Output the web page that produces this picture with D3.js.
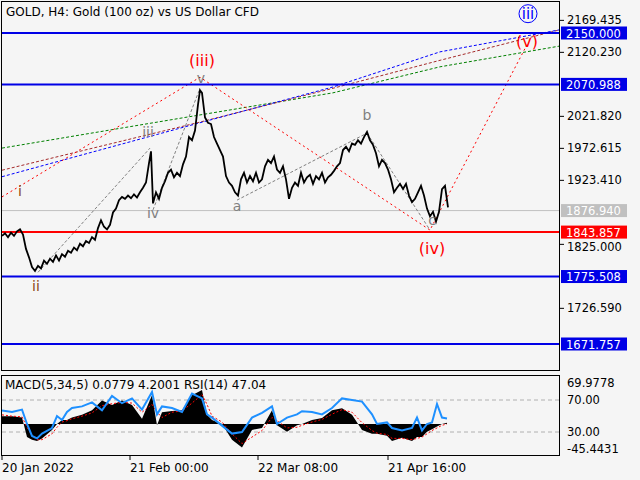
<!DOCTYPE html><html><head><meta charset="utf-8">
<script src="https://cdn.jsdelivr.net/npm/d3@7"></script>
<style>body{margin:0;background:#f5f5f5}svg{font-family:"DejaVu Sans",sans-serif}</style></head><body>
<svg id="c" width="640" height="480"></svg>
<script>
const priceBars=[2,5,8,11,14,17,20,23,26,29,32,35,38,41,44,47,50,53,56,59,62,65,68,71,74,77,80,83,86,89,92,95,98,101,104,107,110,113,116,119,122,125,128,131,134,137,140,143,146,149,151,153,156,159,162,165,168,171,174,177,180,183,186,189,192,195,198,200,202,205,208,211,214,217,220,223,226,229,232,235,238,241,244,247,250,253,256,259,262,265,268,271,274,277,280,283,286,289,292,295,298,301,304,307,310,313,316,319,322,325,328,331,334,337,340,343,346,349,352,355,358,361,364,367,370,373,376,379,382,385,388,391,394,397,400,403,406,409,412,415,418,421,424,427,430,433,436,439,442,445,448];
const priceVals=[1838,1842,1836,1843,1838,1845,1848,1840,1818,1805,1790,1784,1792,1788,1800,1795,1803,1798,1808,1800,1810,1806,1815,1812,1820,1816,1826,1822,1830,1827,1836,1832,1850,1862,1852,1848,1855,1874,1880,1893,1898,1895,1900,1896,1902,1897,1905,1912,1920,1950,1968,1888,1905,1895,1912,1922,1935,1940,1928,1935,1930,1948,1960,1990,1985,2000,2040,2062,2058,2020,2012,2010,1990,1980,1970,1960,1930,1920,1915,1905,1900,1925,1935,1920,1930,1922,1935,1920,1925,1945,1955,1950,1960,1940,1935,1945,1925,1895,1912,1920,1915,1935,1920,1928,1932,1918,1930,1925,1935,1920,1928,1932,1938,1945,1950,1970,1975,1968,1980,1978,1985,1980,1990,1998,1985,1978,1965,1945,1955,1950,1940,1925,1905,1912,1918,1910,1918,1900,1890,1895,1905,1915,1900,1880,1868,1875,1860,1875,1910,1915,1882];
const oscBars=[0,10,20,25,30,35,40,50,55,60,65,70,80,90,100,110,120,130,140,150,155,160,170,180,190,200,205,210,220,230,240,250,260,270,275,285,295,300,310,320,330,340,350,360,370,375,385,390,400,410,415,420,425,430,435,440,445];
const rsiVals=[57,55,58,40,25,22,28,35,50,45,55,60,62,67,57,75,66,72,58,80,52,62,60,55,78,72,52,48,38,28,30,48,54,62,40,48,52,56,55,52,60,72,70,68,52,40,42,35,32,35,48,32,40,42,65,48,47];
const macdVals=[12,12,10,-20,-24,-26,-22,-9,0,6,6,10,14,21,36,29,36,29,8,44,-2,18,20,21,44,52,14,6,0,-24,-36,-9,-6,21,-2,-12,-2,0,6,9,21,24,14,-9,-15,-15,-18,-26,-21,-26,-20,-20,-12,-8,-4,0,2];
const sigVals=[14,12,11,-5,-18,-24,-24,-15,-5,3,5,8,12,17,28,31,33,32,18,30,18,10,18,20,32,45,30,12,3,-15,-30,-20,-10,10,5,-6,-5,-2,3,7,15,22,18,2,-10,-14,-16,-22,-22,-24,-22,-20,-15,-10,-6,-2,0];
const hLines=[{v:2150.000,c:"#0000e6"},{v:2070.988,c:"#0000e6"},{v:1775.508,c:"#0000e6"},{v:1671.757,c:"#0000e6"},{v:1843.857,c:"#ff0000"}];
const currentPrice=1876.940;
const priceTicks=[2169.435,2120.230,2021.820,1972.615,1923.410,1825.000,1726.590];
const trendLines=[
 {pts:[[2,1973],[200,2024],[333,2058],[440,2098],[560,2130]],c:"#008000"},
 {pts:[[2,1939],[200,2013],[333,2065],[440,2108],[560,2155]],c:"#a52a2a"},
 {pts:[[2,1929],[200,2012],[333,2067],[440,2121],[560,2155]],c:"#0000ff"}];
const redPath=[[2,1898],[200,2082],[430,1847],[527,2132]];
const grayPaths=[[[38,1782],[150,1973]],[[153,1878],[200,2065]],[[237,1893],[367,1996]],[[367,1996],[430,1847]]];
const waveLabels=[{b:20,p:1900,t:"i",c:"#8b4513"},{b:36,p:1754,t:"ii",c:"#8b4513"},{b:148,p:1990,t:"iii",c:"#808080"},{b:153,p:1866,t:"iv",c:"#808080"},{b:237,p:1877,t:"a",c:"#808080"},{b:367,p:2016,t:"b",c:"#808080"},{b:432,p:1855,t:"c",c:"#808080"},{b:201,p:2073,t:"v",c:"#808080"},{b:202,p:2100,t:"(iii)",c:"#ff0000",s:16},{b:432,p:1810,t:"(iv)",c:"#ff0000",s:16},{b:527,p:2128,t:"(v)",c:"#ff0000",s:16},{b:528,p:2172,t:"iii",c:"#0000ff",s:15,circle:true}];
const dateTicks=[{b:2,t:"20 Jan 2022"},{b:130,t:"21 Feb 00:00"},{b:258,t:"22 Mar 08:00"},{b:388,t:"21 Apr 16:00"}];

const svg=d3.select("#c");
const x=d3.scaleLinear().domain([0,560]).range([0,560]);
const y=d3.scaleLinear().domain([1671.757,2150]).range([344,33]);
const rsiY=d3.scaleLinear().domain([30,70]).range([432,400]);
const macdY=d3.scaleLinear().domain([0,52]).range([424,390]);
svg.append("rect").attr("width",640).attr("height",480).attr("fill","#f5f5f5");
svg.append("clipPath").attr("id","mc").append("rect").attr("x",1).attr("y",1).attr("width",562).attr("height",369);
const g=svg.append("g").attr("clip-path","url(#mc)");
g.append("line").attr("x1",0).attr("x2",560).attr("y1",y(currentPrice)).attr("y2",y(currentPrice)).attr("stroke","#c0c0c0");
const ln=d3.line().x(d=>x(d[0])).y(d=>y(d[1]));
trendLines.forEach(t=>g.append("path").attr("d",ln(t.pts)).attr("fill","none").attr("stroke",t.c).attr("stroke-dasharray","3,2"));
grayPaths.forEach(p=>g.append("path").attr("d",ln(p)).attr("fill","none").attr("stroke","#808080").attr("stroke-dasharray","3,2"));
g.append("path").attr("d",ln(redPath)).attr("fill","none").attr("stroke","#ff0000").attr("stroke-dasharray","2,3");
hLines.forEach(h=>g.append("line").attr("x1",0).attr("x2",560).attr("y1",y(h.v)).attr("y2",y(h.v)).attr("stroke",h.c).attr("stroke-width",2));
g.append("path").attr("d",d3.line().x((d,i)=>x(priceBars[i])).y(d=>y(d))(priceVals)).attr("fill","none").attr("stroke","#000").attr("stroke-width",1.8);
waveLabels.forEach(w=>{g.append("text").attr("x",x(w.b)).attr("y",y(w.p)).attr("text-anchor","middle").attr("font-size",w.s||14).attr("fill",w.c).text(w.t);
 if(w.circle)g.append("circle").attr("cx",x(w.b)).attr("cy",y(w.p)-5).attr("r",9).attr("fill","none").attr("stroke","#0000ff");});
svg.append("text").attr("x",6).attr("y",16).attr("font-size",12).text("GOLD, H4:  Gold (100 oz) vs US Dollar CFD");
svg.append("rect").attr("x",1.5).attr("y",1.5).attr("width",558).attr("height",369).attr("fill","none").attr("stroke","#000");
svg.append("rect").attr("x",1.5).attr("y",375.5).attr("width",558).attr("height",80).attr("fill","none").attr("stroke","#000");
const boxVals=hLines.map(h=>h.v).concat([currentPrice]);
priceTicks.forEach(p=>{svg.append("line").attr("x1",560).attr("x2",564).attr("y1",y(p)).attr("y2",y(p)).attr("stroke","#000");
 const above=boxVals.some(v=>y(v)<y(p)&&y(p)-y(v)<16);
 svg.append("text").attr("x",567).attr("y",y(p)+(above?7:3.5)).attr("font-size",11.5).text(p.toFixed(3));});
const box=(v,c)=>{svg.append("rect").attr("x",561).attr("y",y(v)-6.5).attr("width",66).attr("height",13).attr("fill",c);
 svg.append("text").attr("x",566).attr("y",y(v)+4.5).attr("font-size",11.5).attr("fill","#fff").text(v.toFixed(3));};
hLines.forEach(h=>box(h.v,h.c));
box(currentPrice,"#c0c0c0");
const og=svg.append("g");
[70,30].forEach(v=>og.append("line").attr("x1",2).attr("x2",560).attr("y1",rsiY(v)).attr("y2",rsiY(v)).attr("stroke","#b0b0b0").attr("stroke-dasharray","4,3"));
og.append("path").attr("d",d3.area().x((d,i)=>x(oscBars[i]+2)).y0(macdY(0)).y1(d=>macdY(d))(macdVals)).attr("fill","#000");
og.append("path").attr("d",d3.line().x((d,i)=>x(oscBars[i]+2)).y(d=>macdY(d))(sigVals)).attr("fill","none").attr("stroke","#ff0000").attr("stroke-dasharray","2,2");
og.append("path").attr("d",d3.line().x((d,i)=>x(oscBars[i]+2)).y(d=>rsiY(d))(rsiVals)).attr("fill","none").attr("stroke","#1e90ff").attr("stroke-width",2);
svg.append("text").attr("x",5).attr("y",389).attr("font-size",12).text("MACD(5,34,5) 0.0779 4.2001 RSI(14) 47.04");
[["69.9778",387],["70.00",404],["30.00",436],["-45.4431",453]].forEach(d=>svg.append("text").attr("x",567).attr("y",d[1]).attr("font-size",11.5).text(d[0]));
dateTicks.forEach(d=>{svg.append("line").attr("x1",x(d.b)).attr("x2",x(d.b)).attr("y1",456).attr("y2",460).attr("stroke","#000");
 svg.append("text").attr("x",x(d.b)).attr("y",472).attr("font-size",12).text(d.t);});
</script></body></html>
